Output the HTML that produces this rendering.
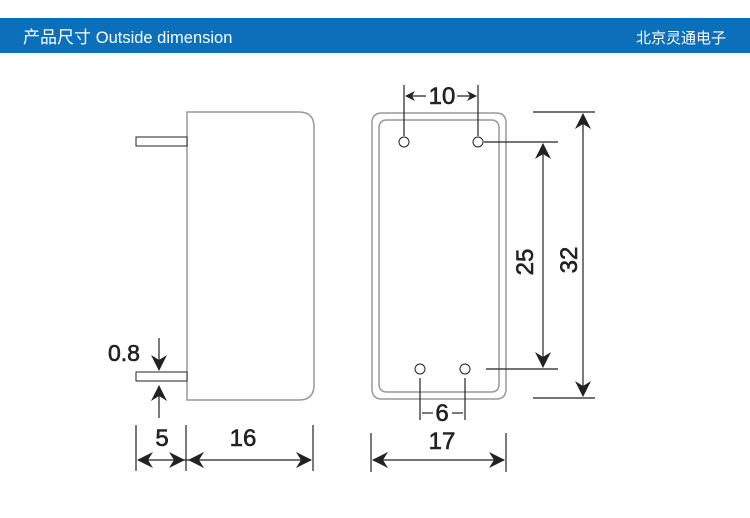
<!DOCTYPE html>
<html><head><meta charset="utf-8"><style>
body{margin:0;background:#fff;width:750px;height:518px;overflow:hidden}
svg{display:block}
</style></head><body>
<svg width="750" height="518" viewBox="0 0 750 518" xmlns="http://www.w3.org/2000/svg">
<rect x="0" y="18" width="750" height="35" fill="#0b6fba"/>
<text x="23" y="43" fill="#fff" font-family="Liberation Sans, Noto Sans CJK SC, sans-serif" font-size="17">产品尺寸 <tspan font-size="16.5">Outside dimension</tspan></text>
<text x="726" y="43" fill="#fff" text-anchor="end" font-family="Noto Sans CJK SC, sans-serif" font-size="15">北京灵通电子</text>

<g fill="none" stroke="#999" stroke-width="1.5">
<path d="M187 112 H299 Q314 112 314 127 V385 Q314 400 299 400 H187 Z"/>
<path d="M382 113 H496 Q506 113 506 123 V389 Q506 399 496 399 H382 Q372 399 372 389 V123 Q372 113 382 113 Z"/>
<path d="M387 120 H491 Q499 120 499 128 V384 Q499 392 491 392 H387 Q379 392 379 384 V128 Q379 120 387 120 Z"/>
</g>
<g fill="#fff" stroke="#222" stroke-width="1">
<rect x="136" y="137" width="51" height="9"/>
<rect x="136" y="372" width="51" height="9"/>
<circle cx="404" cy="142" r="5"/><circle cx="478" cy="142" r="5"/>
<circle cx="420" cy="369" r="5"/><circle cx="465" cy="369" r="5"/>
</g>
<g stroke="#222" stroke-width="1.2" fill="none">
<line x1="159" y1="338" x2="159" y2="370"/><line x1="159" y1="386" x2="159" y2="418"/>
<line x1="136" y1="425" x2="136" y2="471"/><line x1="186" y1="425" x2="186" y2="471"/><line x1="313" y1="425" x2="313" y2="471"/>
<line x1="138" y1="460" x2="311" y2="460"/>
<line x1="404" y1="85" x2="404" y2="136"/><line x1="478" y1="85" x2="478" y2="136"/>
<line x1="406" y1="96" x2="426" y2="96"/><line x1="457" y1="96" x2="476" y2="96"/>
<line x1="484" y1="142" x2="558" y2="142"/><line x1="486" y1="369" x2="558" y2="369"/>
<line x1="533" y1="112" x2="595" y2="112"/><line x1="533" y1="398" x2="595" y2="398"/>
<line x1="543" y1="144" x2="543" y2="367"/><line x1="583" y1="114" x2="583" y2="396"/>
<line x1="420" y1="378" x2="420" y2="420"/><line x1="465" y1="378" x2="465" y2="420"/>
<line x1="422" y1="413" x2="433" y2="413"/><line x1="452" y1="413" x2="463" y2="413"/>
<line x1="371" y1="433" x2="371" y2="472"/><line x1="506" y1="433" x2="506" y2="472"/>
<line x1="373" y1="460" x2="504" y2="460"/>
</g>
<g fill="#222">
<polygon points="159,371 151,355 159,360 167,355"/>
<polygon points="159,385 151,401 159,396 167,401"/>
<polygon points="137,460 153,452 148,460 153,468"/>
<polygon points="185,460 169,452 174,460 169,468"/>
<polygon points="188,460 204,452 199,460 204,468"/>
<polygon points="312,460 296,452 301,460 296,468"/>
<polygon points="405,96 415,91 412,96 415,101"/>
<polygon points="477,96 467,91 470,96 467,101"/>
<polygon points="543,143 535,159 543,154 551,159"/>
<polygon points="543,368 535,352 543,357 551,352"/>
<polygon points="583,113 575,129 583,124 591,129"/>
<polygon points="583,397 575,381 583,386 591,381"/>
<polygon points="372,460 388,452 383,460 388,468"/>
<polygon points="505,460 489,452 494,460 489,468"/>
</g>
<g fill="#222" stroke="#222" stroke-width="0.6" font-family="Liberation Sans, sans-serif" font-size="24" text-anchor="middle">
<text x="124" y="361" font-size="23">0.8</text>
<text x="162" y="446">5</text>
<text x="243" y="446">16</text>
<text x="442" y="104">10</text>
<text x="442" y="421">6</text>
<text x="442" y="449">17</text>
<text transform="translate(533,262) rotate(-90)">25</text>
<text transform="translate(577,260) rotate(-90)">32</text>
</g>
</svg>
</body></html>
